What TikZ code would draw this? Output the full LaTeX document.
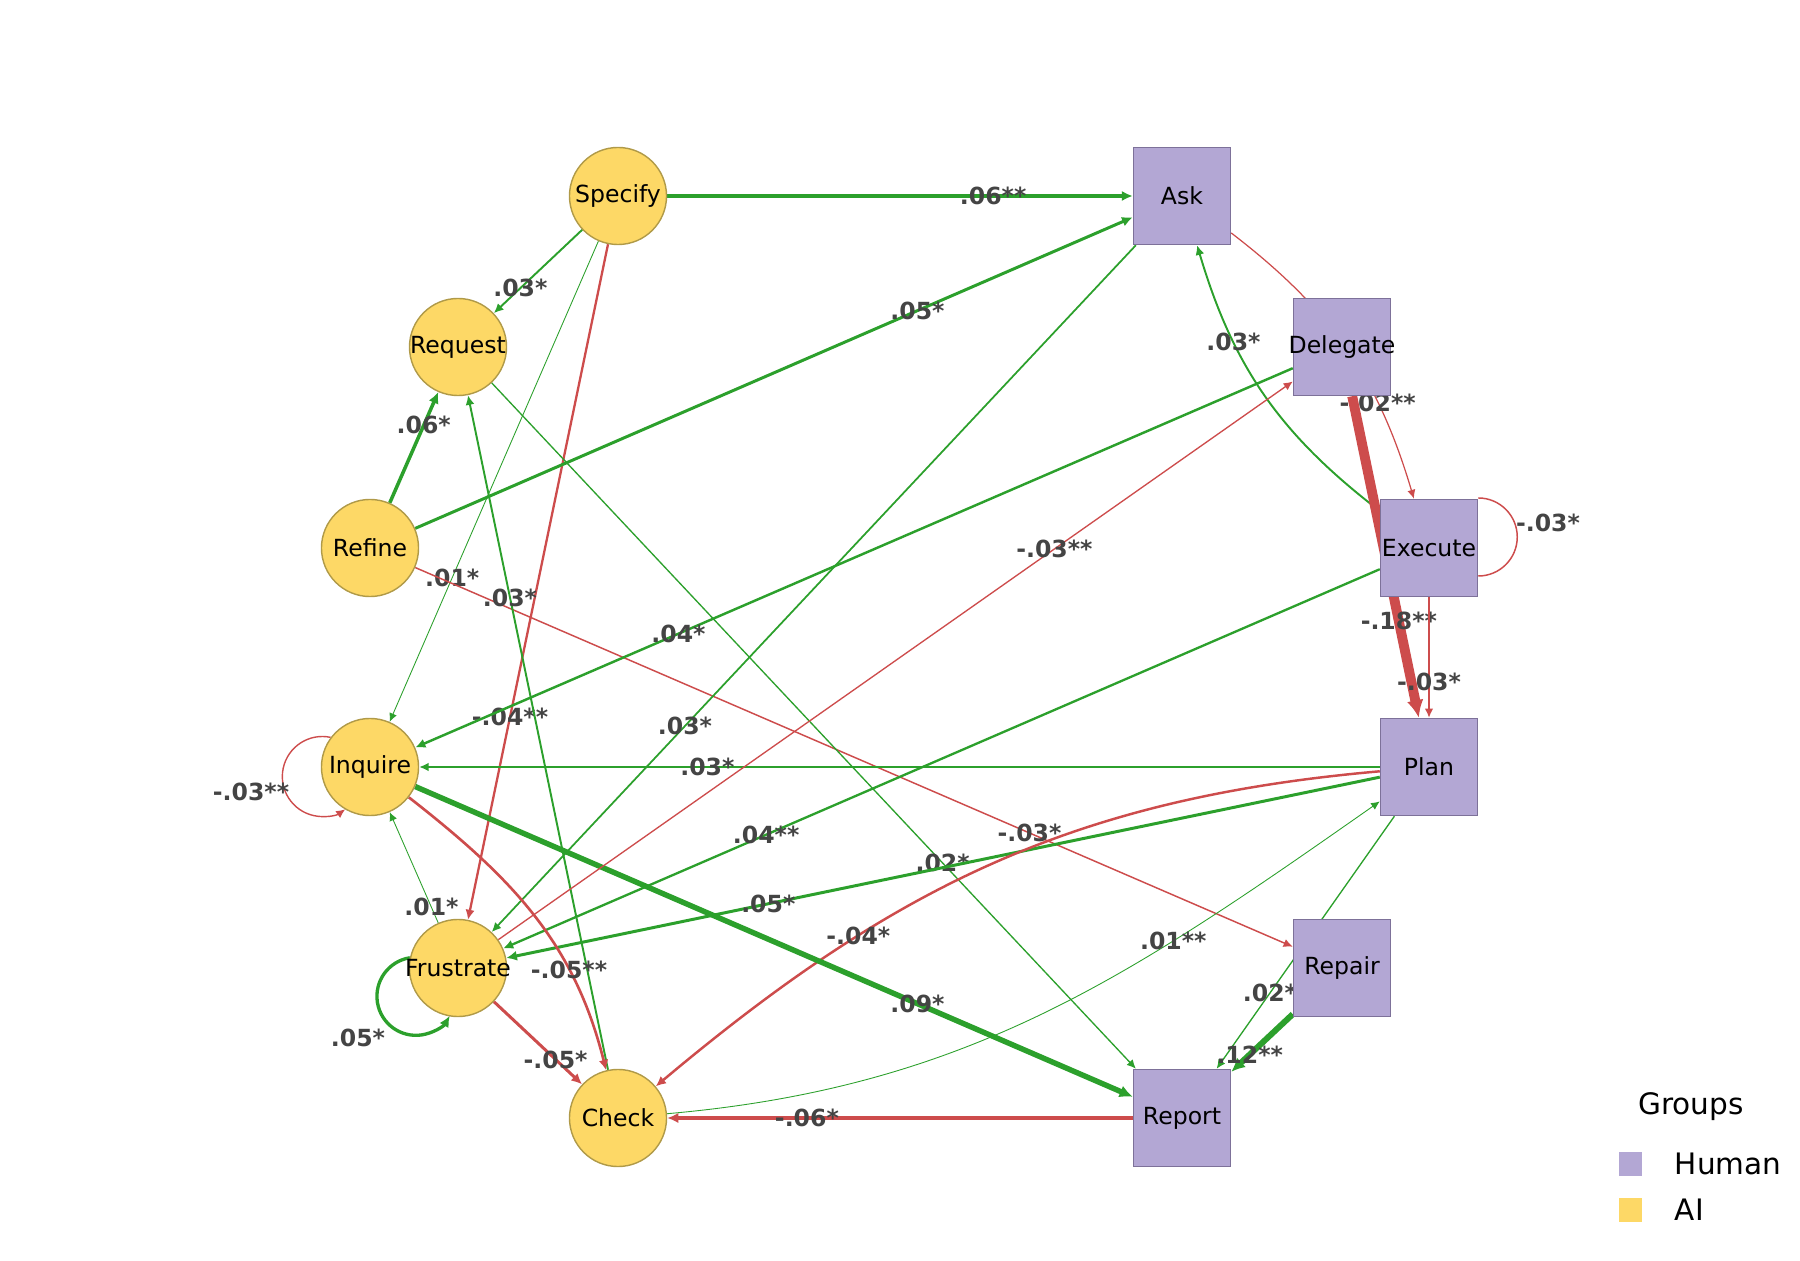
\documentclass[tikz,border=0pt]{standalone}
\usepackage{fontspec}
\setmainfont{DejaVu Sans}
\usetikzlibrary{arrows.meta,positioning,backgrounds}

\definecolor{aifill}{HTML}{FDD866}
\definecolor{aiborder}{HTML}{B09A48}
\definecolor{hufill}{HTML}{B3A7D4}
\definecolor{huborder}{HTML}{7D7199}
\definecolor{posgreen}{HTML}{2CA02C}
\definecolor{negred}{HTML}{CD4C4C}
\definecolor{lblgray}{HTML}{444444}

\begin{document}
\begin{tikzpicture}[x=0.01cm, y=0.01cm,
  ai/.style={circle, draw=aiborder, fill=aifill, minimum size=0.97cm, inner sep=0pt, font=\fontsize{6.7}{8}\selectfont},
  human/.style={rectangle, draw=huborder, fill=hufill, minimum size=0.97cm, inner sep=0pt, font=\fontsize{6.7}{8}\selectfont},
  greenedge/.style={draw=posgreen, line width=#1, -{Latex[length=2.2pt 1, width=2pt 1]}},
  rededge/.style={draw=negred, line width=#1, -{Latex[length=2.2pt 1, width=2pt 1]}},
  wtbase/.style={text=lblgray, inner sep=0pt, font=\bfseries\fontsize{6.7}{8}\selectfont},
  wt/.style={wtbase, pos=0.7},
  keytext/.style={inner sep=0pt, font=\fontsize{8.4}{10}\selectfont}]
\useasboundingbox (0,0) rectangle (1800,1260);

% AI
\node[ai] (specify) at (618,1064) {\makebox[0pt]{Specify}};
\node[ai] (request) at (458,913) {\makebox[0pt]{Request}};
\node[ai] (refine) at (370,712) {\makebox[0pt]{Refine}};
\node[ai] (inquire) at (370,493) {\makebox[0pt]{Inquire}};
\node[ai] (frustrate) at (458,292) {\makebox[0pt]{Frustrate}};
\node[ai] (check) at (618,142) {\makebox[0pt]{Check}};
% Human
\node[human] (ask) at (1182,1064) {\makebox[0pt]{Ask}};
\node[human] (delegate) at (1342,913) {\makebox[0pt]{Delegate}};
\node[human] (execute) at (1429,712) {\makebox[0pt]{Execute}};
\node[human] (plan) at (1429,493) {\makebox[0pt]{Plan}};
\node[human] (repair) at (1342,292) {\makebox[0pt]{Repair}};
\node[human] (report) at (1182,142) {\makebox[0pt]{Report}};

\begin{scope}[on background layer]
\draw[greenedge=0.9pt] (specify) -- node[wt] {.06**} (ask);
\draw[greenedge=0.55pt] (specify) -- node[wt] {.03*} (request);
\draw[greenedge=0.25pt] (specify) -- node[wt] {.01*} (inquire);
\draw[rededge=0.65pt] (specify) -- node[wt] {-.04**} (frustrate);
\draw[greenedge=1pt] (refine) -- node[wt] {.06*} (request);
\draw[greenedge=0.85pt] (refine) -- node[wt] {.05*} (ask);
\draw[rededge=0.42pt] (refine) -- node[wt] {-.03*} (repair);
\draw[greenedge=0.38pt] (request) -- node[wt] {.02*} (report);
\draw[greenedge=0.5pt] (ask) -- node[wt] {.03*} (frustrate);
\draw[rededge=0.35pt] (ask) to[bend left=18] node[wt] {-.02**} (execute);
\draw[greenedge=0.55pt] (execute) to[bend left=18] node[wt] {.03*} (ask);
\draw[greenedge=0.7pt] (delegate) -- node[wt] {.04*} (inquire);
\draw[rededge=2.8pt] (delegate) -- node[wt] {-.18**} (plan);
\draw[greenedge=0.66pt] (execute) -- node[wt] {.04**} (frustrate);
\draw[rededge=0.38pt] (execute) -- node[wt] {-.03*} (plan);
\draw[draw=negred, line width=0.42pt] ([yshift=0.5cm]execute.east) arc[start angle=90, end angle=-90, radius=0.39cm];
\draw[greenedge=0.5pt] (plan) -- node[wt] {.03*} (inquire);
\draw[greenedge=0.85pt] (plan) -- node[wt] {.05*} (frustrate);
\draw[greenedge=0.38pt] (plan) -- node[wt] {.02*} (report);
\draw[rededge=0.7pt] (plan) to[out=185, in=40] node[wt] {-.04*} (check);
\draw[greenedge=0.25pt] (check) to[out=5, in=215] node[wt] {.01**} (plan);
\draw[greenedge=0.55pt] (check) -- node[wt] {.03*} (request);
\draw[rededge=0.4pt] (inquire.143) arc[start angle=78, end angle=305, radius=0.4cm];
\draw[greenedge=1.55pt] (inquire) -- node[wt] {.09*} (report);
\draw[rededge=0.75pt] (inquire) to[out=-38, in=104] node[wt] {-.05**} (check);
\draw[greenedge=0.95pt] (frustrate.168) arc[start angle=99, end angle=330, radius=0.39cm];
\draw[greenedge=0.25pt] (frustrate) -- node[wt, pos=0.14] {.01*} (inquire);
\draw[rededge=0.38pt] (frustrate) -- node[wt] {-.03**} (delegate);
\draw[rededge=0.85pt] (frustrate) -- node[wt] {-.05*} (check);
\draw[greenedge=1.7pt] (repair) -- node[wt] {.12**} (report);
\draw[rededge=1pt] (report) -- node[wt] {-.06*} (check);
\end{scope}

% loop weights
\node[wtbase] (wtinquire) at (251,468) {-.03**};
\node[wtbase] (wtfrustrate) at (358,222) {.05*};
\node[wtbase] (wtexecute) at (1548,737) {-.03*};

% legend
\node[keytext] (groups) at (1691,153) {Groups};
\node[fill=hufill, minimum size=0.23cm, inner sep=0pt] (keyhuman) at (1630,96) {};
\node[fill=aifill, minimum size=0.23cm, inner sep=0pt] (keyai) at (1630,50) {};
\node[keytext, right=0.32cm of keyhuman] (txthuman) {Human};
\node[keytext, right=0.32cm of keyai] (txtai) {AI};
\end{tikzpicture}
\end{document}
